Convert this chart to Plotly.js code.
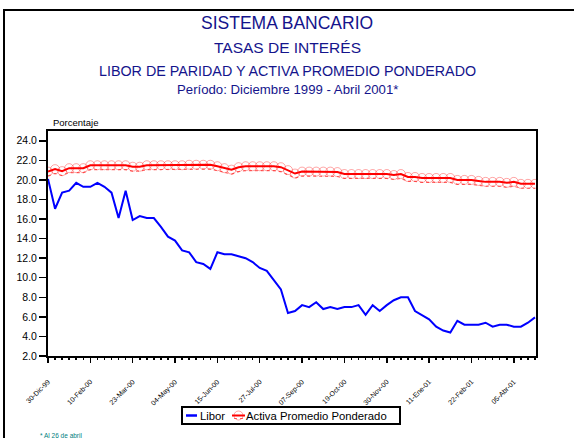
<!DOCTYPE html>
<html>
<head>
<meta charset="utf-8">
<script src="https://cdn.plot.ly/plotly-3.0.1.min.js"></script>
<style>
html,body{margin:0;padding:0;background:#fff;}
#chart{position:absolute;left:0;top:0;width:574px;height:438px;}
#frame{position:absolute;left:3px;top:9px;width:600px;height:460px;border-top:2px solid #000;border-left:2px solid #000;pointer-events:none;}
</style>
</head>
<body>
<div id="chart"></div>
<div id="frame"></div>
<script>
// Weekly observations (Thursdays) from 30-Dic-1999 to 26-Abr-2001
var seriesNames = ['Libor', 'Activa Promedio Ponderado'];
var tickLabels = ['30-Dic-99','10-Feb-00','23-Mar-00','04-May-00','15-Jun-00','27-Jul-00',
                  '07-Sep-00','19-Oct-00','30-Nov-00','11-Ene-01','22-Feb-01','05-Abr-01'];

var libor = [20.1,17.05,18.7,18.9,19.7,19.3,19.3,19.7,19.3,18.7,
             16.1,18.9,15.9,16.3,16.1,16.1,15.2,14.2,13.8,12.8,
             12.6,11.6,11.4,10.9,12.6,12.4,12.4,12.2,12.0,11.6,
             11.0,10.7,9.7,8.8,6.4,6.6,7.2,7.0,7.5,6.8,
             7.0,6.8,7.0,7.0,7.2,6.2,7.2,6.6,7.2,7.7,
             8.0,8.0,6.6,6.2,5.75,5.0,4.6,4.4,5.6,5.2,
             5.2,5.2,5.4,5.0,5.2,5.2,5.0,5.0,5.4,5.95];

var activa = [20.85,21.1,20.9,21.2,21.2,21.2,21.5,21.5,21.5,21.5,
              21.5,21.5,21.35,21.35,21.5,21.5,21.5,21.5,21.5,21.5,
              21.55,21.55,21.55,21.55,21.4,21.2,21.05,21.3,21.4,21.4,
              21.4,21.4,21.4,21.3,21.0,20.65,20.85,20.85,20.85,20.85,
              20.85,20.8,20.6,20.6,20.6,20.6,20.6,20.6,20.6,20.5,
              20.6,20.3,20.3,20.2,20.2,20.2,20.2,20.2,20.0,20.0,
              20.0,19.9,19.8,19.8,19.8,19.7,19.8,19.6,19.6,19.6];

var yTicks = [2,4,6,8,10,12,14,16,18,20,22,24];

var WEEK = 7*86400000;
var t0 = Date.UTC(1999,11,30);
var dates = libor.map(function(_, i){ return new Date(t0 + i*WEEK).toISOString().slice(0,10); });
var tickVals = tickLabels.map(function(_, k){ return new Date(t0 + k*6*WEEK).toISOString().slice(0,10); });

// layout helpers (pixel -> paper)
var L = 48, R = 38, T = 131, B = 82, W = 574, H = 438;
var PW = W - L - R, PH = H - T - B;
function xp(px){ return (px - L) / PW; }
function yp(py){ return (H - B - py) / PH; }

var FONT = 'Liberation Sans, Arial, sans-serif';
var NAVY = '#14148c';
var BLUE = '#0000ff', RED = '#ff0000', PINK = 'rgba(255,0,0,0.35)';

var traces = [
  {x: dates, y: libor, name: seriesNames[0], type: 'scatter', mode: 'lines', showlegend: false,
   line: {color: BLUE, width: 2}},
  {x: dates, y: activa, name: seriesNames[1], type: 'scatter', mode: 'lines+markers', showlegend: false,
   line: {color: RED, width: 2},
   marker: {symbol: 'circle-open', size: 9, color: PINK, line: {width: 1, color: PINK}}},
  {x: dates, y: activa, yaxis: 'y2', type: 'scatter', mode: 'lines', showlegend: false, hoverinfo: 'skip',
   line: {color: 'rgba(255,0,0,0.6)', width: 1.2, dash: 'dot'}}
];

function ann(text, x, y, size, color, anchor){
  return {text: text, xref: 'paper', yref: 'paper', x: xp(x), y: yp(y), xanchor: anchor || 'center', yanchor: 'middle',
          showarrow: false, font: {size: size, color: color, family: FONT}};
}
function rectPx(x0, y0, x1, y1, style){
  var s = {type: 'rect', xref: 'paper', yref: 'paper', x0: xp(x0), x1: xp(x1), y0: yp(y0), y1: yp(y1)};
  for (var k in style) s[k] = style[k];
  return s;
}

var legY = 415.5;
var layout = {
  width: W, height: H,
  margin: {l: L, r: R, t: T, b: B, pad: 0},
  paper_bgcolor: '#fff', plot_bgcolor: '#fff',
  font: {family: FONT, color: '#000'},
  showlegend: false,
  xaxis: {
    type: 'date', range: ['1999-12-30', '2001-04-27'], automargin: false,
    tickmode: 'array', tickvals: tickVals, ticktext: tickLabels, tickangle: -45,
    tickfont: {size: 7, family: FONT, color: '#000'},
    ticks: 'outside', ticklen: 5, tickwidth: 1.5, tickcolor: '#000',
    minor: {ticks: 'outside', tick0: '1999-12-30', dtick: WEEK, ticklen: 2, tickwidth: 1.5, tickcolor: '#000'},
    showline: true, linecolor: '#000', linewidth: 2, mirror: true,
    showgrid: false, zeroline: false, fixedrange: true, ticklabelstandoff: 12
  },
  yaxis: {
    range: [2, 25], tickmode: 'array', tickvals: yTicks, tickformat: '.1f', automargin: false,
    tickfont: {size: 10.5, family: FONT, color: '#000'},
    ticks: 'outside', ticklen: 7, tickwidth: 1.5, tickcolor: '#000',
    showline: true, linecolor: '#000', linewidth: 2, mirror: true,
    showgrid: false, zeroline: false, fixedrange: true
  },
  yaxis2: {overlaying: 'y', range: [2.45, 25.45], visible: false, fixedrange: true},
  shapes: [
    rectPx(182, 407, 400, 424, {line: {color: '#000', width: 2}, fillcolor: '#fff', layer: 'above'}),
    {type: 'line', xref: 'paper', yref: 'paper', x0: xp(186), x1: xp(197), y0: yp(legY), y1: yp(legY), line: {color: BLUE, width: 2.5}},
    {type: 'circle', xref: 'paper', yref: 'paper', x0: xp(234), x1: xp(243), y0: yp(legY - 4.5), y1: yp(legY + 4.5), line: {color: PINK, width: 1}},
    {type: 'line', xref: 'paper', yref: 'paper', x0: xp(232), x1: xp(245), y0: yp(legY), y1: yp(legY), line: {color: RED, width: 2}},
    {type: 'line', xref: 'paper', yref: 'paper', x0: xp(234), x1: xp(243), y0: yp(legY + 3), y1: yp(legY + 3), line: {color: 'rgba(255,0,0,0.6)', width: 1, dash: 'dot'}}
  ],
  annotations: [
    ann('SISTEMA BANCARIO', 287, 23, 17.5, NAVY),
    ann('TASAS DE INTERÉS', 287, 47, 15.5, NAVY),
    ann('LIBOR DE PARIDAD Y ACTIVA PROMEDIO PONDERADO', 287, 71, 14.3, NAVY),
    ann('Período: Diciembre 1999 - Abril 2001*', 287, 90, 13.2, NAVY),
    ann('Porcentaje', 51, 122, 9.5, '#000', 'left'),
    ann(seriesNames[0], 198, legY, 11.3, '#000', 'left'),
    ann(seriesNames[1], 244, legY, 11.3, '#000', 'left'),
    ann('* Al 26 de abril', 38, 435, 6.5, '#008080', 'left')
  ]
};

Plotly.newPlot('chart', traces, layout, {displayModeBar: false, staticPlot: true});
</script>
</body>
</html>
